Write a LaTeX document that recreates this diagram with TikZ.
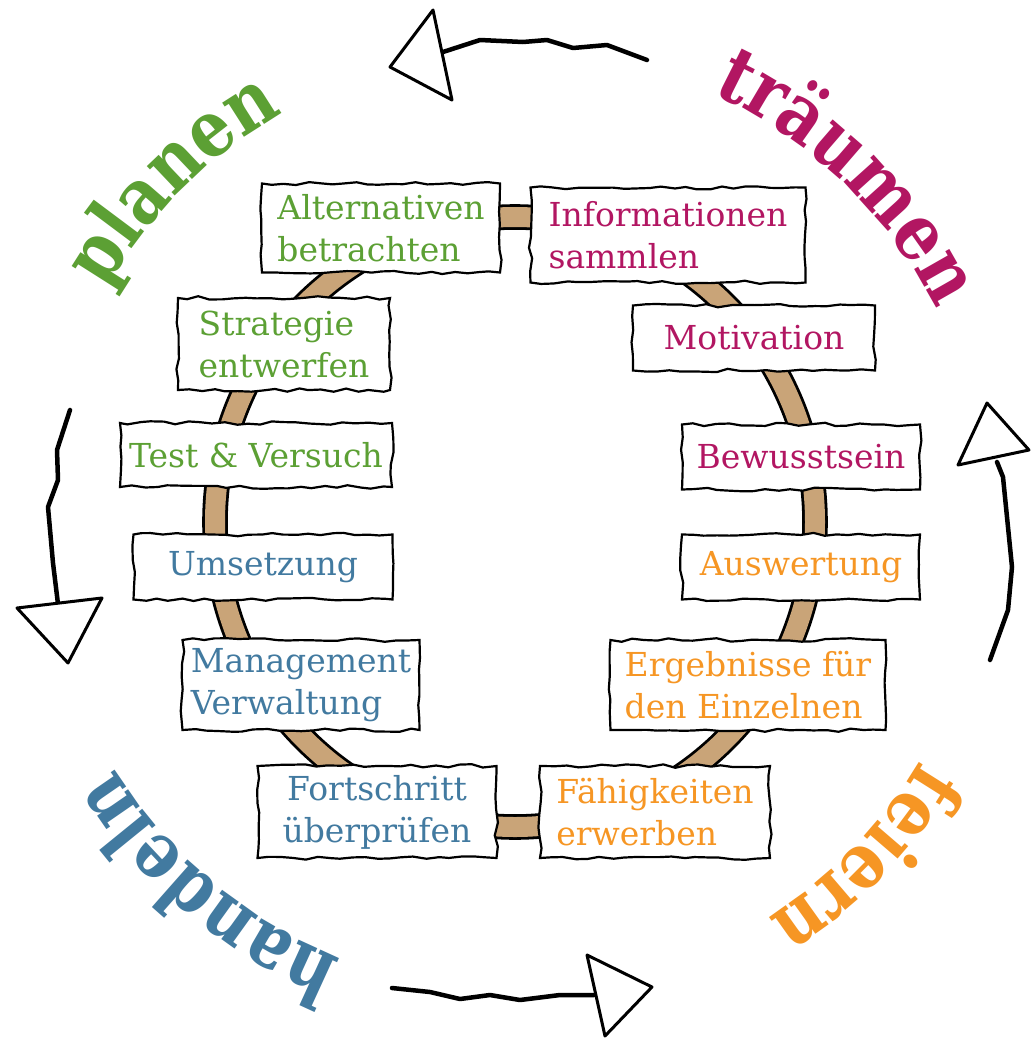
\documentclass[tikz,border=0pt]{standalone}
\usepackage{fontspec}
\setmainfont{DejaVu Serif}
\newfontfamily\wordface{DejaVu Serif}[FakeStretch=0.85]
\usetikzlibrary{decorations.pathmorphing, decorations.text}
\definecolor{plancol}{RGB}{92,160,52}
\definecolor{dreamcol}{RGB}{178,22,98}
\definecolor{actcol}{RGB}{66,122,160}
\definecolor{partycol}{RGB}{246,150,36}
\definecolor{ringtan}{RGB}{201,164,120}
\newcommand\boxfont{\fontsize{33}{42}\selectfont}
\newcommand\wordfont{\wordface\bfseries\fontsize{78}{78}\selectfont}
\tikzset{
	sign/.style={
		draw,
		fill=white,
		line width=2.2pt,
		decorate,
		decoration={random steps, segment length=12pt, amplitude=1.8pt},
		align=left,
		inner sep=0pt,
		font=\boxfont
	},
	plan/.style={sign, text=plancol},
	dream/.style={sign, text=dreamcol},
	act/.style={sign, text=actcol},
	party/.style={sign, text=partycol},
	band/.style={
		draw=black,
		line width=2.8pt,
		double=ringtan,
		double distance=20pt
	},
	sketch/.style={line width=4.5pt, line join=round, line cap=round},
	trihead/.style={draw, line width=3pt, fill=white, line join=round},
	word/.style={decorate, decoration={text along path, text align=center}},
}

\begin{document}
\begin{tikzpicture}[x=1pt, y=1pt]
\pgfmathsetseed{11}
\useasboundingbox[fill=white] (0,0) rectangle (1032,-1039);

% ring behind the signs
\coordinate (hub) at (515,-522);
\draw[band] (hub) ellipse[x radius=300, y radius=305];

% planen
\node(alt)[plan, minimum width=238, minimum height=89] at (381,-228) {Alternativen\\betrachten};
\node(strat)[plan, minimum width=212, minimum height=92] at (284,-344) {Strategie\\entwerfen};
\node(test)[plan, minimum width=272, minimum height=64] at (256,-455) {Test \& Versuch};

% handeln
\node(umsetz)[act, minimum width=259, minimum height=65] at (263,-567) {Umsetzung};
\node(manage)[act, minimum width=237, minimum height=90] at (301,-685) {Management\\Verwaltung};
\node(fort)[act, align=center, minimum width=239, minimum height=92] at (377,-812) {Fortschritt\\überprüfen};

% feiern
\node(faehig)[party, minimum width=230, minimum height=92] at (655,-812) {Fähigkeiten\\erwerben};
\node(ergeb)[party, minimum width=275, minimum height=90] at (748,-685) {Ergebnisse für\\den Einzelnen};
\node(auswert)[party, minimum width=238, minimum height=65] at (801,-567) {Auswertung};

% traeumen
\node(bewusst)[dream, minimum width=238, minimum height=65] at (801,-457) {Bewusstsein};
\node(motiv)[dream, minimum width=242, minimum height=65] at (754,-338) {Motivation};
\node(info)[dream, minimum width=275, minimum height=95] at (668,-235) {Informationen\\sammlen};

% outer words
\path[word, decoration={text={|\wordfont\color{plancol}|planen}}]
	([shift={(175:470)}]hub) arc[start angle=175, end angle=95, radius=470];
\path[word, decoration={text={|\wordfont\color{dreamcol}|träumen}}]
	([shift={(86:472)}]hub) arc[start angle=86, end angle=6, radius=472];
\path[word, decoration={text={|\wordfont\color{partycol}|feiern}}]
	([shift={(-4:470)}]hub) arc[start angle=-4, end angle=-84, radius=470];
\path[word, decoration={text={|\wordfont\color{actcol}|handeln}}]
	([shift={(-90:470)}]hub) arc[start angle=-90, end angle=-170, radius=470];

% arrows
\draw[sketch] (647,-60) -- (607,-45) -- (573,-48) -- (547,-40) -- (523,-42) -- (480,-40) -- (443,-52);
\draw[trihead] (433,-10) -- (390,-67) -- (452,-100) -- cycle;

\draw[sketch] (70,-410) -- (57,-450) -- (58,-480) -- (48,-507) -- (53,-563) -- (58,-604);
\draw[trihead] (17,-608) -- (102,-598) -- (68,-663) -- cycle;

\draw[sketch] (392,-988) -- (430,-992) -- (460,-999) -- (490,-995) -- (520,-1000) -- (560,-995) -- (594,-995);
\draw[trihead] (587,-955) -- (652,-987) -- (605,-1036) -- cycle;

\draw[sketch] (990,-660) -- (1008,-610) -- (1012,-567) -- (1003,-477) -- (997,-462);
\draw[trihead] (987,-403) -- (1029,-450) -- (958,-465) -- cycle;

\end{tikzpicture}
\end{document}
